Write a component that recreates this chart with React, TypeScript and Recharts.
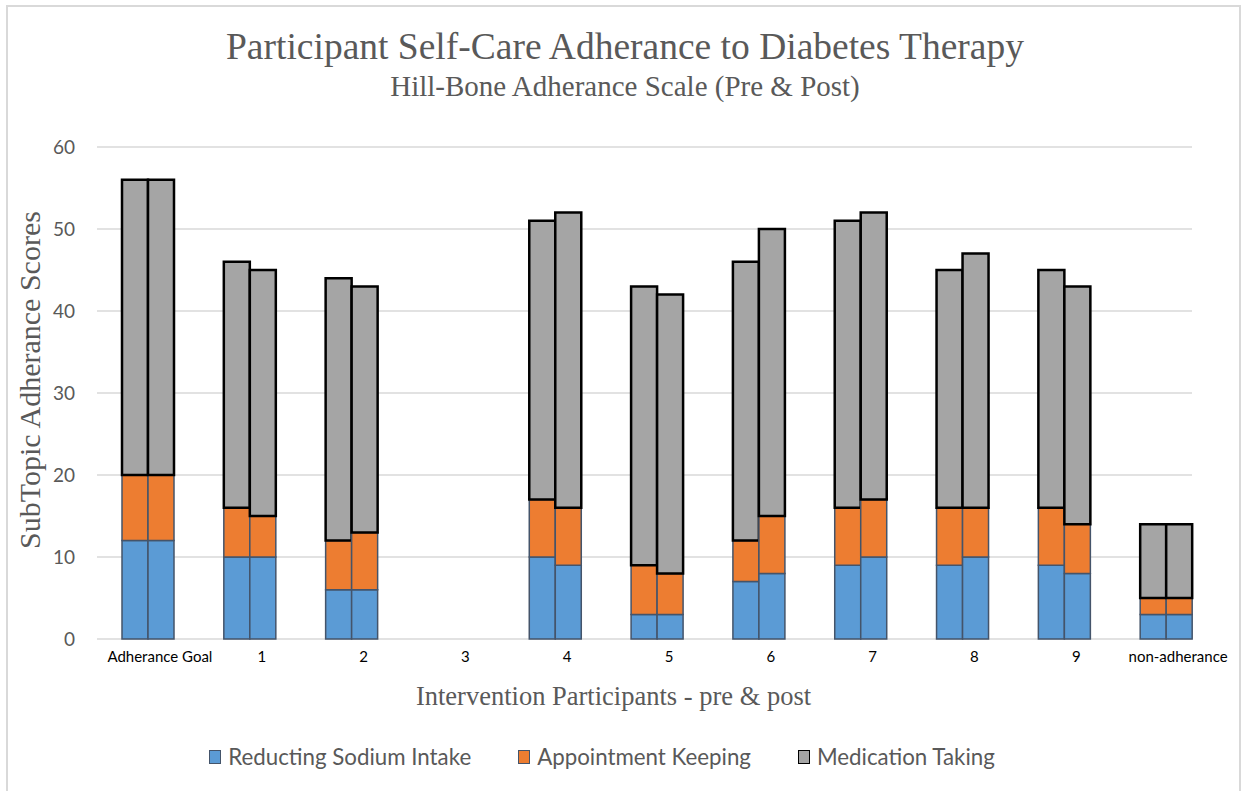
import React from 'react';
import { BarChart, Bar, XAxis, YAxis, CartesianGrid, Legend } from 'recharts';

const categories = ['Adherance Goal', '1', '2', '3', '4', '5', '6', '7', '8', '9', 'non-adherance'];
const preSodium = [12, 10, 6, null, 10, 3, 7, 9, 9, 9, 3];
const preAppointment = [8, 6, 6, null, 7, 6, 5, 7, 7, 7, 2];
const preMedication = [36, 30, 32, null, 34, 34, 34, 35, 29, 29, 9];
const postSodium = [12, 10, 6, null, 9, 3, 8, 10, 10, 8, 3];
const postAppointment = [8, 5, 7, null, 7, 5, 7, 7, 6, 6, 2];
const postMedication = [36, 30, 30, null, 36, 34, 35, 35, 31, 29, 9];
const yTicks = [0, 10, 20, 30, 40, 50, 60];

const legendItems = [
  { name: 'Reducting Sodium Intake', fill: '#5B9BD5', stroke: '#44546A' },
  { name: 'Appointment Keeping', fill: '#ED7D31', stroke: '#44546A' },
  { name: 'Medication Taking', fill: '#A5A5A5', stroke: '#000000' },
];

const data = categories.map((c, i) => ({
  name: c,
  preSodium: preSodium[i],
  preAppointment: preAppointment[i],
  preMedication: preMedication[i],
  postSodium: postSodium[i],
  postAppointment: postAppointment[i],
  postMedication: postMedication[i],
}));

const SANS = 'Lato, "Open Sans", sans-serif';
const SERIF = '"Liberation Serif", "Times New Roman", serif';

const XTick = (props: any) => {
  const { x, y, payload } = props;
  return (
    <text x={x + 12} y={y + 15} textAnchor="middle" fontFamily={SANS} fontSize={15} fill="#000">
      {payload.value}
    </text>
  );
};

const GridLine = (props: any) => {
  const { x1, x2, y1, y2 } = props;
  return <line x1={x1} x2={x2 - 25} y1={y1} y2={y2} stroke="#D9D9D9" strokeWidth={1.5} />;
};

const LegendContent = () => (
  <div style={{ display: 'flex', justifyContent: 'center', alignItems: 'center', fontFamily: SANS, fontSize: 22.3, color: '#595959', paddingRight: 40 }}>
    {legendItems.map((it, i) => (
      <div key={it.name} style={{ display: 'flex', alignItems: 'center', marginLeft: i === 0 ? 0 : 47 }}>
        <span style={{ display: 'inline-block', width: 10, height: 12, background: it.fill, border: `1.5px solid ${it.stroke}`, marginRight: 7 }} />
        <span>{it.name}</span>
      </div>
    ))}
  </div>
);

export default function App() {
  const blueStroke = { stroke: '#44546A', strokeWidth: 1.5 };
  return (
    <div style={{ position: 'absolute', left: 0, top: 0, width: 1244, height: 791, background: '#fff', overflow: 'hidden' }}>
      <div style={{ position: 'absolute', left: 6, top: 5, width: 1235, height: 800, border: '2px solid #D9D9D9', boxSizing: 'border-box' }} />
      <div style={{ position: 'absolute', left: 0, width: 1250, top: 25, textAlign: 'center', fontFamily: SERIF, fontSize: 37.5, color: '#595959', lineHeight: '44px' }}>
        Participant Self-Care Adherance to Diabetes Therapy
      </div>
      <div style={{ position: 'absolute', left: 0, width: 1250, top: 70, textAlign: 'center', fontFamily: SERIF, fontSize: 29, color: '#595959', lineHeight: '32px' }}>
        Hill-Bone Adherance Scale (Pre &amp; Post)
      </div>
      <div style={{ position: 'absolute', left: 30, top: 380, width: 400, transform: 'translate(-50%, -50%) rotate(-90deg)', textAlign: 'center', fontFamily: SERIF, fontSize: 30, color: '#595959', lineHeight: '32px' }}>
        SubTopic Adherance Scores
      </div>
      <div style={{ position: 'absolute', left: 0, width: 1227, top: 680, textAlign: 'center', fontFamily: SERIF, fontSize: 26.5, color: '#595959', lineHeight: '32px' }}>
        Intervention Participants - pre &amp; post
      </div>
      <div style={{ position: 'absolute', left: 0, top: 0 }}>
        <BarChart
          width={1244}
          height={791}
          data={data}
          margin={{ top: 147, right: 27, bottom: 0, left: 0 }}
          barGap={0}
          barSize={26}
        >
          <CartesianGrid vertical={false} horizontal={GridLine as any} />
          <XAxis
            dataKey="name"
            height={152}
            axisLine={false}
            tickLine={false}
            tick={XTick as any}
            interval={0}
          />
          <YAxis
            width={97}
            domain={[0, 60]}
            ticks={yTicks}
            axisLine={false}
            tickLine={false}
            tickSize={0}
            tickMargin={22}
            tick={{ fontFamily: SANS, fontSize: 19, fill: '#595959' }}
            interval={0}
          />
          <Legend
            layout="horizontal"
            verticalAlign="middle"
            align="center"
            content={LegendContent as any}
            wrapperStyle={{ top: 743, left: 0, width: 1244 }}
          />
          <Bar dataKey="preSodium" stackId="pre" fill="#5B9BD5" {...blueStroke} isAnimationActive={false} />
          <Bar dataKey="preAppointment" stackId="pre" fill="#ED7D31" {...blueStroke} isAnimationActive={false} />
          <Bar dataKey="preMedication" stackId="pre" fill="#A5A5A5" stroke="#000" strokeWidth={2.5} isAnimationActive={false} />
          <Bar dataKey="postSodium" stackId="post" fill="#5B9BD5" {...blueStroke} isAnimationActive={false} />
          <Bar dataKey="postAppointment" stackId="post" fill="#ED7D31" {...blueStroke} isAnimationActive={false} />
          <Bar dataKey="postMedication" stackId="post" fill="#A5A5A5" stroke="#000" strokeWidth={2.5} isAnimationActive={false} />
        </BarChart>
      </div>
    </div>
  );
}
